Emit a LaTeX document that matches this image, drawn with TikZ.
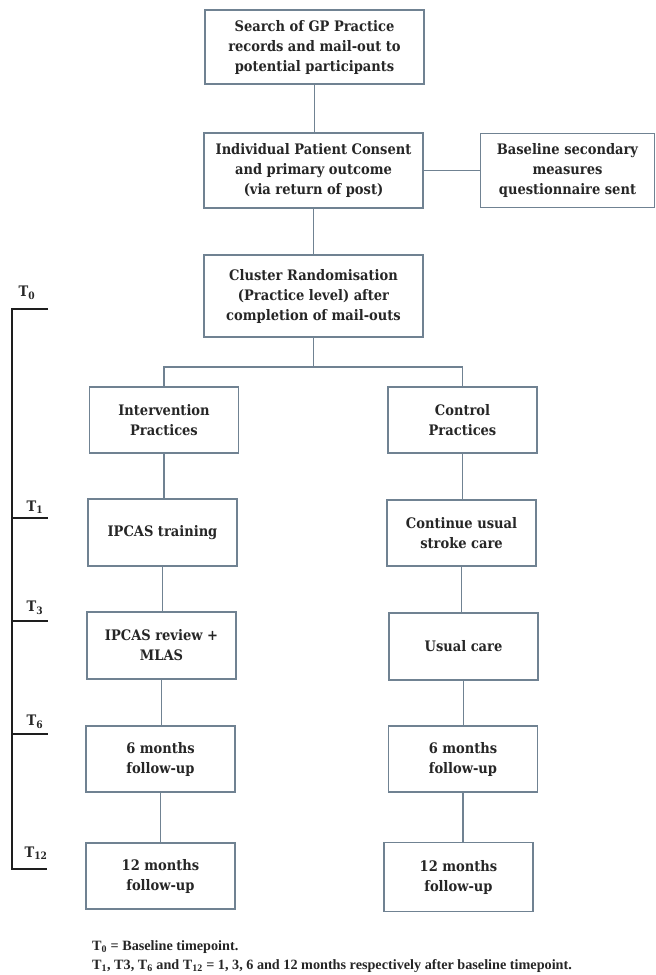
\documentclass[tikz,border=0pt]{standalone}
\usepackage{fontspec}
\setmainfont{Liberation Serif}
\newfontfamily\boxfont{DejaVu Serif Condensed}
\definecolor{boxc}{RGB}{112,130,146}
\definecolor{txt}{RGB}{38,38,38}
\definecolor{tlc}{RGB}{30,30,30}
\begin{document}
\begin{tikzpicture}[x=1pt,y=-1pt,
  box/.style={draw=boxc, line width=1.1pt, fill=white, text=txt, align=center, inner sep=0pt,
    font=\boxfont\bfseries\fontsize{14.5}{20}\selectfont},
  wide/.style={box, minimum width=219pt, minimum height=75pt},
  side/.style={box, minimum width=174pt, minimum height=74pt},
  col/.style={box, minimum width=149pt, minimum height=66pt},
  conn/.style={draw=boxc, line width=1.1pt},
  tline/.style={draw=tlc, line width=1.1pt},
  tlab/.style={text=txt, inner sep=0pt, font=\boxfont\bfseries\fontsize{14.5}{20}\selectfont},
  foot/.style={text=txt, inner sep=0pt, anchor=west, font=\bfseries\fontsize{14.2}{16}\selectfont}]
\useasboundingbox[fill=white] (0,0) rectangle (656,975);

% top boxes
\node[wide, minimum height=74pt] (b1) at (314.5,47) {Search of GP Practice\\records and mail-out to\\potential participants};
\node[wide] (b2) at (313.5,170.5) {Individual Patient Consent\\and primary outcome\\(via return of post)};
\node[side] (sd) at (567.5,170.5) {Baseline secondary\\measures\\questionnaire sent};
\node[wide, minimum height=82pt] (b3) at (313.5,296) {Cluster Randomisation\\(Practice level) after\\completion of mail-outs};

% left column
\node[col] (i1) at (164,420) {Intervention\\Practices};
\node[col, minimum height=67pt] (i2) at (162.5,532.5) {IPCAS training};
\node[col, minimum height=67pt] (i3) at (161.5,645.5) {IPCAS review +\\MLAS};
\node[col] (i4) at (160.5,759) {6 months\\follow-up};
\node[col] (i5) at (160.5,876) {12 months\\follow-up};

% right column
\node[col] (c1) at (462.5,420) {Control\\Practices};
\node[col] (c2) at (461.5,533) {Continue usual\\stroke care};
\node[col, minimum height=67pt] (c3) at (463.5,646.5) {Usual care};
\node[col] (c4) at (463,759) {6 months\\follow-up};
\node[col, minimum height=69pt] (c5) at (458.5,877) {12 months\\follow-up};

% connectors
\draw[conn] (b1.south) -- (b1.south |- b2.north);
\draw[conn] (b2.east) -- (sd.west);
\draw[conn] (b2.south) -- (b2.south |- b3.north);
\coordinate (split) at (313.5,367);
\draw[conn] (b3.south) -- (split);
\draw[conn] (i1.north) |- (split) -| (c1.north);
\draw[conn] (i1.south) -- (i1.south |- i2.north);
\draw[conn] (i2.south) -- (i2.south |- i3.north);
\draw[conn] (i3.south) -- (i3.south |- i4.north);
\draw[conn] (i4.south) -- (i4.south |- i5.north);
\draw[conn] (c1.south) -- (c1.south |- c2.north);
\draw[conn] (c2.south) -- (c2.south |- c3.north);
\draw[conn] (c3.south) -- (c3.south |- c4.north);
\draw[conn] (c4.south) -- (c4.south |- c5.north);

% timeline
\coordinate (t0a) at (48,309);
\coordinate (t0b) at (12,309);
\coordinate (t12b) at (12,869);
\coordinate (t12a) at (47,869);
\draw[tline] (t0a) -- (t0b) -- (t12b) -- (t12a);
\coordinate (t1b) at (12,518); \coordinate (t1a) at (48,518);
\coordinate (t3b) at (12,621); \coordinate (t3a) at (48,621);
\coordinate (t6b) at (12,734); \coordinate (t6a) at (48,734);
\draw[tline] (t1b) -- (t1a);
\draw[tline] (t3b) -- (t3a);
\draw[tline] (t6b) -- (t6a);
\node[tlab] (l0) at (27,293) {T\textsubscript{0}};
\node[tlab] (l1) at (35,507) {T\textsubscript{1}};
\node[tlab] (l3) at (35,608) {T\textsubscript{3}};
\node[tlab] (l6) at (35,722) {T\textsubscript{6}};
\node[tlab] (l12) at (36,853) {T\textsubscript{12}};

% footnote
\node[foot] (f1) at (92,947) {T\textsubscript{0} = Baseline timepoint.};
\node[foot] (f2) at (92,966) {T\textsubscript{1}, T3, T\textsubscript{6} and T\textsubscript{12} = 1, 3, 6 and 12 months respectively after baseline timepoint.};
\end{tikzpicture}
\end{document}
